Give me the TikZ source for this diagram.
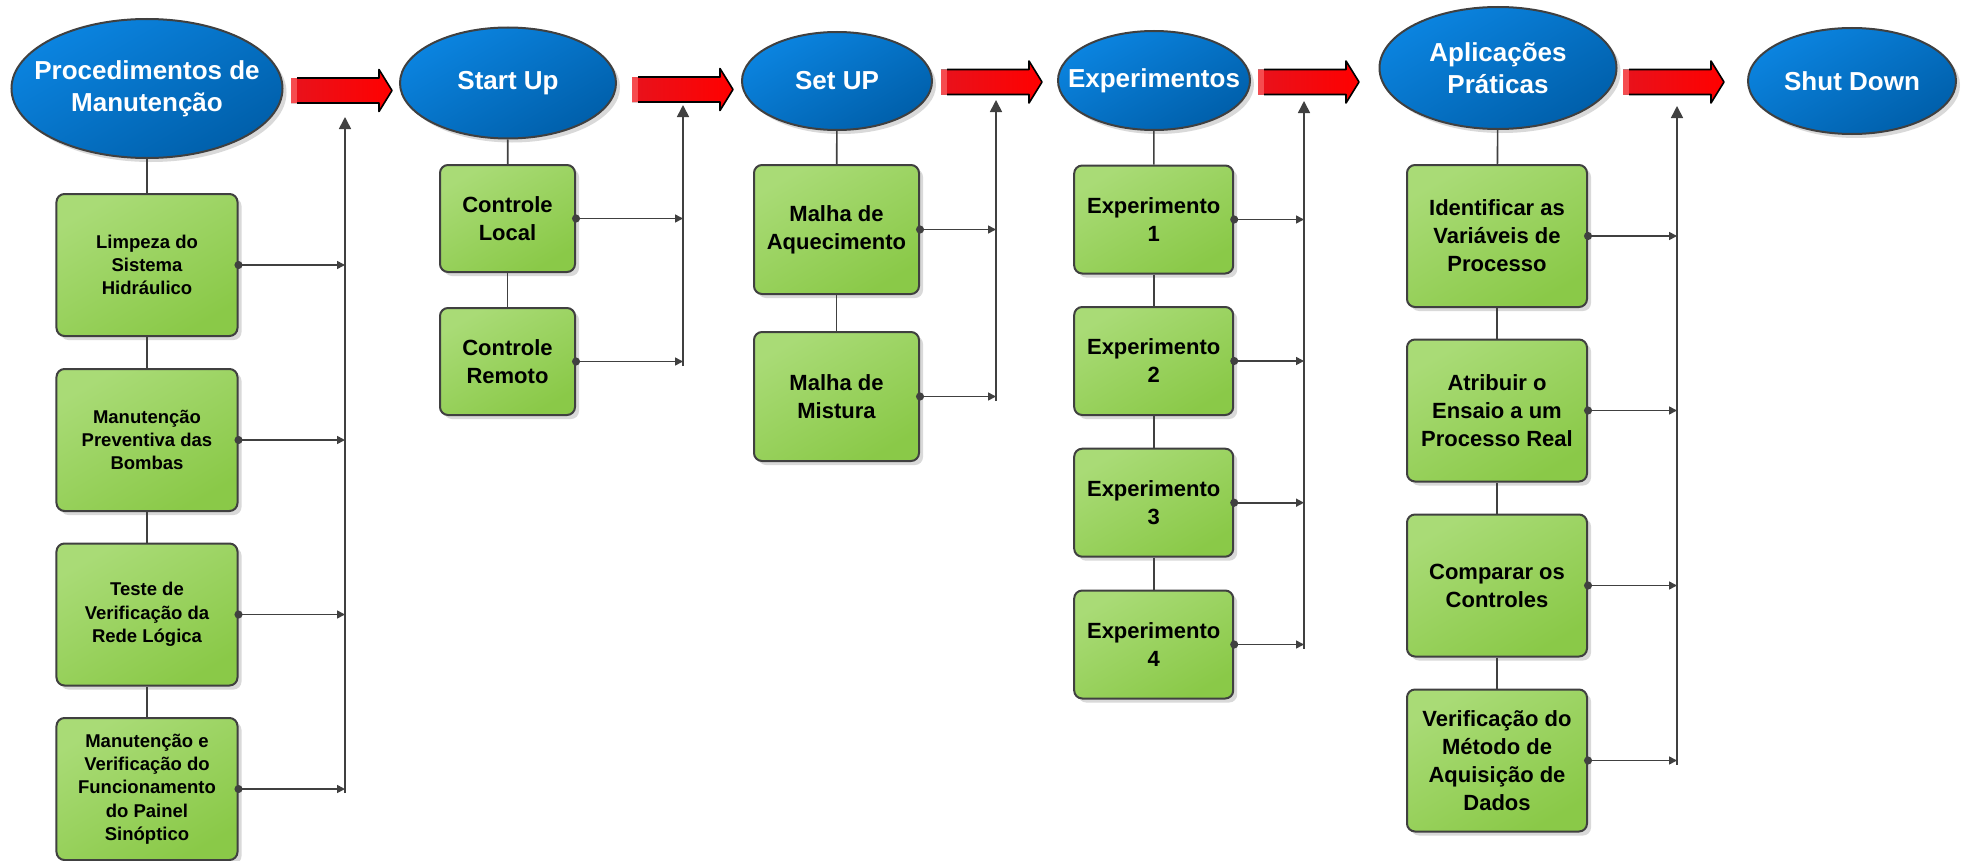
\documentclass[tikz,border=0pt]{standalone}
\usepackage{fontspec}
\setmainfont{Liberation Sans}
\usetikzlibrary{shapes.geometric,arrows.meta,shadows}
\definecolor{linegray}{HTML}{404040}
\definecolor{blueA}{HTML}{0B84E0}
\definecolor{blueB}{HTML}{005FAA}
\definecolor{greenA}{HTML}{A9DB76}
\definecolor{greenB}{HTML}{8AC948}
\definecolor{redA}{HTML}{E8121C}

\begin{document}
\begin{tikzpicture}[x=1bp,y=-1bp]
  \tikzset{
    stage/.style={ellipse, draw=linegray, line width=2bp, inner sep=0pt,
      top color=blueA, bottom color=blueB, shading angle=30,
      drop shadow={shadow xshift=4bp,shadow yshift=-4bp,fill=black!15,opacity=1}},
    stagetext/.style={text=white, align=center, inner sep=0pt,
      font=\fontsize{26bp}{32bp}\selectfont\bfseries},
    task/.style={rectangle, rounded corners=8bp, draw=linegray, line width=2bp,
      inner sep=0pt, top color=greenA, bottom color=greenB, shading angle=30,
      align=center, font=\fontsize{22bp}{28bp}\selectfont\bfseries,
      drop shadow={shadow xshift=4bp,shadow yshift=-4bp,fill=black!15,opacity=1}},
    smalltask/.style={task, font=\fontsize{18.5bp}{23.3bp}\selectfont\bfseries},
    redarrow/.pic={
      \fill[left color=redA, right color=red] (0,-12.5) -- (88,-12.5) -- (88,-21)
        -- (101,0) -- (88,21) -- (88,12.5) -- (0,12.5) -- cycle;
      \fill[red!55!white, opacity=.6] (0,-12.5) rectangle (6,12.5);
      \draw[black, line width=1.6bp, line join=round] (6,-12.5) -- (88,-12.5) -- (88,-21)
        -- (101,0) -- (88,21) -- (88,12.5) -- (6,12.5);
    },
    link/.style={draw=linegray, line width=1.6bp},
    feed/.style={link, shorten <=-4bp,
      {Circle[length=8bp]}-{Triangle[length=8bp,width=8bp]}},
    bus/.style={link, -{Triangle[length=12bp,width=12bp]}}
  }
  \path[use as bounding box, fill=white] (0,0) rectangle (1962,861);

  % stages
  \node[stage, minimum width=271bp, minimum height=139bp,
    label={[stagetext]center:{Procedimentos de\\Manutenção}}] (e1) at (147,88.5) {};
  \node[stage, minimum width=216bp, minimum height=111bp,
    label={[stagetext]center:Start Up}] (e2) at (508,83) {};
  \node[stage, minimum width=190bp, minimum height=98bp,
    label={[stagetext]center:Set UP}] (e3) at (837,81) {};
  \node[stage, minimum width=192bp, minimum height=99bp,
    label={[stagetext]center:Experimentos}] (e4) at (1154,80.5) {};
  \node[stage, minimum width=237bp, minimum height=122bp,
    label={[stagetext]center:{Aplicações\\Práticas}}] (e5) at (1498,68) {};
  \node[stage, minimum width=208bp, minimum height=106bp,
    label={[stagetext]center:Shut Down}] (e6) at (1852,81) {};

  % red arrows
  \pic at (291,90.5) {redarrow};
  \pic at (632,89.5) {redarrow};
  \pic at (941,82) {redarrow};
  \pic at (1258,82) {redarrow};
  \pic at (1623,82) {redarrow};

  % procedimentos
  \node[smalltask, minimum width=181bp, minimum height=142bp] (p1) at (147,265) {Limpeza do\\Sistema\\Hidráulico};
  \node[smalltask, minimum width=181bp, minimum height=142bp] (p2) at (147,440) {Manutenção\\Preventiva das\\Bombas};
  \node[smalltask, minimum width=181bp, minimum height=142bp] (p3) at (147,614.5) {Teste de\\Verificação da\\Rede Lógica};
  \node[smalltask, minimum width=181bp, minimum height=142bp] (p4) at (147,789) {Manutenção e\\Verificação do\\Funcionamento\\do Painel\\Sinóptico};

  % start up
  \node[task, minimum width=135bp, minimum height=107bp] (s1) at (507.5,218.5) {Controle\\Local};
  \node[task, minimum width=135bp, minimum height=107bp] (s2) at (507.5,361.5) {Controle\\Remoto};

  % set up
  \node[task, minimum width=165bp, minimum height=129bp] (m1) at (836.5,229.5) {Malha de\\Aquecimento};
  \node[task, minimum width=165bp, minimum height=129bp] (m2) at (836.5,396.5) {Malha de\\Mistura};

  % experimentos
  \node[task, minimum width=159bp, minimum height=108bp] (x1) at (1153.7,219.5) {Experimento\\1};
  \node[task, minimum width=159bp, minimum height=108bp] (x2) at (1153.7,361) {Experimento\\2};
  \node[task, minimum width=159bp, minimum height=108bp] (x3) at (1153.7,502.7) {Experimento\\3};
  \node[task, minimum width=159bp, minimum height=108bp] (x4) at (1153.7,644.5) {Experimento\\4};

  % aplicacoes
  \node[task, minimum width=180bp, minimum height=142bp] (a1) at (1497,236) {Identificar as\\Variáveis de\\Processo};
  \node[task, minimum width=180bp, minimum height=142bp] (a2) at (1497,410.5) {Atribuir o\\Ensaio a um\\Processo Real};
  \node[task, minimum width=180bp, minimum height=142bp] (a3) at (1497,585.5) {Comparar os\\Controles};
  \node[task, minimum width=180bp, minimum height=142bp] (a4) at (1497,760.5) {Verificação do\\Método de\\Aquisição de\\Dados};

  % vertical links
  \draw[link] (e1) -- (p1);
  \draw[link] (p1) -- (p2);
  \draw[link] (p2) -- (p3);
  \draw[link] (p3) -- (p4);
  \draw[link] (e2) -- (s1);
  \draw[link] (s1) -- (s2);
  \draw[link] (e3) -- (m1);
  \draw[link] (m1) -- (m2);
  \draw[link] (e4) -- (x1);
  \draw[link] (x1) -- (x2);
  \draw[link] (x2) -- (x3);
  \draw[link] (x3) -- (x4);
  \draw[link] (e5) -- (a1);
  \draw[link] (a1) -- (a2);
  \draw[link] (a2) -- (a3);
  \draw[link] (a3) -- (a4);

  % buses
  \coordinate (t1) at (345,117);   \coordinate (d1) at (345,793);
  \coordinate (t2) at (683,105);   \coordinate (d2) at (683,366);
  \coordinate (t3) at (996,100);   \coordinate (d3) at (996,401);
  \coordinate (t4) at (1304,101);  \coordinate (d4) at (1304,648.5);
  \coordinate (t5) at (1677,106);  \coordinate (d5) at (1677,764.5);
  \draw[bus] (d1) -- (t1);
  \draw[bus] (d2) -- (t2);
  \draw[bus] (d3) -- (t3);
  \draw[bus] (d4) -- (t4);
  \draw[bus] (d5) -- (t5);

  % feeds
  \draw[feed] (p1.east) -- (p1.east -| t1);
  \draw[feed] (p2.east) -- (p2.east -| t1);
  \draw[feed] (p3.east) -- (p3.east -| t1);
  \draw[feed] (p4.east) -- (p4.east -| t1);
  \draw[feed] (s1.east) -- (s1.east -| t2);
  \draw[feed] (s2.east) -- (s2.east -| t2);
  \draw[feed] (m1.east) -- (m1.east -| t3);
  \draw[feed] (m2.east) -- (m2.east -| t3);
  \draw[feed] (x1.east) -- (x1.east -| t4);
  \draw[feed] (x2.east) -- (x2.east -| t4);
  \draw[feed] (x3.east) -- (x3.east -| t4);
  \draw[feed] (x4.east) -- (x4.east -| t4);
  \draw[feed] (a1.east) -- (a1.east -| t5);
  \draw[feed] (a2.east) -- (a2.east -| t5);
  \draw[feed] (a3.east) -- (a3.east -| t5);
  \draw[feed] (a4.east) -- (a4.east -| t5);
\end{tikzpicture}
\end{document}
